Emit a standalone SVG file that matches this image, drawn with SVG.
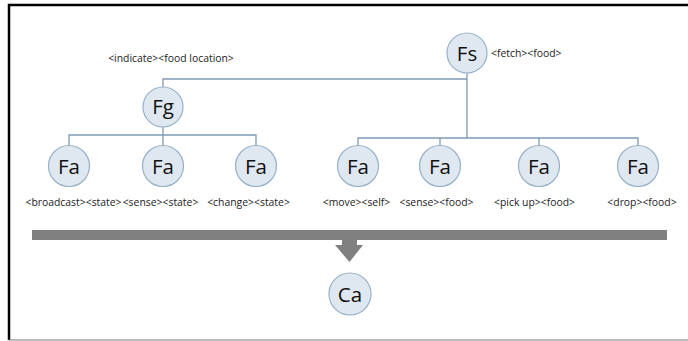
<svg xmlns="http://www.w3.org/2000/svg" width="688" height="341" viewBox="0 0 688 341">
<style>
.node circle{fill:#dfe7f0;stroke:#97b0c8;stroke-width:1.2}
.node text{font-family:"Open Sans","Liberation Sans",sans-serif;font-size:20.5px;fill:#111;text-anchor:middle}
.lbl{font-family:"Open Sans","Liberation Sans",sans-serif;font-size:10.4px;fill:#222;text-anchor:middle}
.conn path{fill:none;stroke:#7d9bb6;stroke-width:1.3}
</style>
<rect x="0" y="0" width="688" height="341" fill="#fff"/>
<path d="M9,340 V5 H688" fill="none" stroke="#000" stroke-width="2.5"/>
<path d="M9,340 H688" fill="none" stroke="#777" stroke-width="1.2"/>
<g class="conn" id="connectors">
<path d="M163,87 V79 H467"/>
<path d="M467,73 V138"/>
<path d="M358,146 V138 H638 V146"/>
<path d="M440,138 V146"/>
<path d="M539,138 V146"/>
<path d="M163,127 V135"/>
<path d="M69,146 V135 H256 V146"/>
<path d="M163,135 V146"/>
</g>
<g id="bigarrow">
<path d="M32,230 H667 V240 H357 V245 H363 L349.5,262 L335,245 H342 V240 H32 Z" fill="#808080"/>
</g>
<g class="node" id="Fs"><circle cx="467" cy="53" r="20"/><text x="467" y="61">Fs</text></g>
<text class="lbl" x="491" y="56.5" style="text-anchor:start">&lt;fetch&gt;&lt;food&gt;</text>
<g class="node" id="Fg"><circle cx="163" cy="107" r="20"/><text x="163" y="114">Fg</text></g>
<text class="lbl" x="171" y="61.5">&lt;indicate&gt;&lt;food location&gt;</text>
<g class="node" id="Fa1"><circle cx="69" cy="166" r="20.5"/><text x="69" y="174">Fa</text></g>
<g class="node" id="Fa2"><circle cx="163" cy="166" r="20.5"/><text x="163" y="174">Fa</text></g>
<g class="node" id="Fa3"><circle cx="256" cy="166" r="20.5"/><text x="256" y="174">Fa</text></g>
<g class="node" id="Fa4"><circle cx="358" cy="166" r="20.5"/><text x="358" y="174">Fa</text></g>
<g class="node" id="Fa5"><circle cx="440" cy="166" r="20.5"/><text x="440" y="174">Fa</text></g>
<g class="node" id="Fa6"><circle cx="539" cy="166" r="20.5"/><text x="539" y="174">Fa</text></g>
<g class="node" id="Fa7"><circle cx="638" cy="166" r="20.5"/><text x="638" y="174">Fa</text></g>
<text class="lbl" x="73.5" y="205.5">&lt;broadcast&gt;&lt;state&gt;</text>
<text class="lbl" x="160.5" y="205.5">&lt;sense&gt;&lt;state&gt;</text>
<text class="lbl" x="248.5" y="205.5">&lt;change&gt;&lt;state&gt;</text>
<text class="lbl" x="356.5" y="205.5">&lt;move&gt;&lt;self&gt;</text>
<text class="lbl" x="436.5" y="205.5">&lt;sense&gt;&lt;food&gt;</text>
<text class="lbl" x="534.5" y="205.5">&lt;pick up&gt;&lt;food&gt;</text>
<text class="lbl" x="642" y="205.5">&lt;drop&gt;&lt;food&gt;</text>
<g class="node" id="Ca"><circle cx="350" cy="294" r="21"/><text x="350" y="302">Ca</text></g>
</svg>
